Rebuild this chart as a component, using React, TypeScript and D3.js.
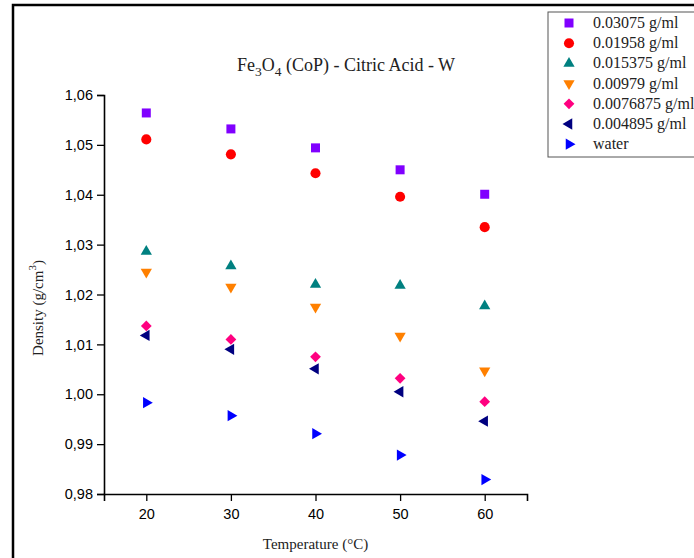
import React, { useEffect, useRef } from "react";
import * as d3 from "d3";

// temperatures (°C)
const temps = [20, 30, 40, 50, 60];

const seriesNames = [
  "0.03075 g/ml",
  "0.01958 g/ml",
  "0.015375 g/ml",
  "0.00979 g/ml",
  "0.0076875 g/ml",
  "0.004895 g/ml",
  "water",
];

const d03075 = [1.0564, 1.0532, 1.0494, 1.045, 1.0401];
const d01958 = [1.0511, 1.0481, 1.0443, 1.0396, 1.0335];
const d015375 = [1.0286, 1.0257, 1.022, 1.0218, 1.0177];
const d00979 = [1.0245, 1.0215, 1.0175, 1.0117, 1.0047];
const d0076875 = [1.0137, 1.011, 1.0075, 1.0032, 0.9985];
const d004895 = [1.0118, 1.009, 1.0051, 1.0005, 0.9946];
const dWater = [0.9983, 0.9957, 0.9921, 0.9878, 0.9829];

const seriesValues = [d03075, d01958, d015375, d00979, d0076875, d004895, dWater];
const colors = ["#8000FF", "#FF0000", "#008080", "#FF8000", "#FF0080", "#000080", "#0000FF"];

const xTicks = [20, 30, 40, 50, 60];
const yTicks = [0.98, 0.99, 1.0, 1.01, 1.02, 1.03, 1.04, 1.05, 1.06];

const W = 694, H = 558;
const margin = { left: 104, top: 95, right: 167, bottom: 64 };

// shape + rotation per series
const shapes: [d3.SymbolType, number, number][] = [
  [d3.symbolSquare, 81, 0],
  [d3.symbolCircle, 80, 0],
  [d3.symbolTriangle, 55, 0],
  [d3.symbolTriangle, 55, 180],
  [d3.symbolSquare, 58, 45],
  [d3.symbolTriangle, 55, -90],
  [d3.symbolTriangle, 55, 90],
];

const serif = "'Liberation Serif', 'Times New Roman', serif";
const sans = "'Liberation Sans', Arial, sans-serif";

export default function App() {
  const ref = useRef<SVGSVGElement>(null);

  useEffect(() => {
    const svg = d3.select(ref.current);
    svg.selectAll("*").remove();

    const x = d3.scaleLinear().domain([15, 65]).range([margin.left, W - margin.right]);
    const y = d3.scaleLinear().domain([0.98, 1.06]).range([H - margin.bottom, margin.top]);

    // outer frame (left and top border)
    svg.append("path")
      .attr("d", `M13,${H} L13,5 L${W},5`)
      .attr("fill", "none").attr("stroke", "#000").attr("stroke-width", 2.5);

    const comma = (v: number) => d3.format(".2f")(v).replace(".", ",");

    // x axis
    const gx = svg.append("g").attr("transform", `translate(0,${H - margin.bottom})`);
    gx.call(d3.axisBottom(x).tickValues(d3.range(15, 66, 5)).tickSize(4).tickFormat(() => ""));
    gx.call(d3.axisBottom(x).tickValues(xTicks).tickSize(7).tickPadding(8).tickFormat(d3.format("d")) as any);
    gx.selectAll("path.domain").attr("stroke-width", 1.6);
    gx.selectAll("line").attr("stroke-width", 1.3);
    gx.selectAll("text").style("font-family", sans).style("font-size", "14.5px").attr("fill", "#000");

    // y axis
    const gy = svg.append("g").attr("transform", `translate(${margin.left},0)`);
    gy.call(d3.axisLeft(y).tickValues(d3.range(0, 17).map(i => 0.98 + i * 0.005)).tickSize(4).tickFormat(() => ""));
    gy.call(d3.axisLeft(y).tickValues(yTicks).tickSize(7).tickPadding(4).tickFormat(d => comma(d as number)) as any);
    gy.selectAll("path.domain").attr("stroke-width", 1.6);
    gy.selectAll("line").attr("stroke-width", 1.3);
    gy.selectAll("text").style("font-family", sans).style("font-size", "14.5px").attr("fill", "#000");

    // markers
    seriesValues.forEach((vals, si) => {
      const [type, size, rot] = shapes[si];
      svg.append("g").selectAll("path")
        .data(vals)
        .enter()
        .append("path")
        .attr("d", d3.symbol().type(type).size(size)() as string)
        .attr("transform", (d, i) => `translate(${x(temps[i])},${y(d)}) rotate(${rot})`)
        .attr("fill", colors[si]);
    });

    // title
    const title = svg.append("text")
      .attr("x", 346).attr("y", 71)
      .attr("text-anchor", "middle")
      .style("font-family", serif)
      .style("font-size", "18px")
      .attr("fill", "#222");
    title.append("tspan").text("Fe");
    title.append("tspan").attr("dy", 5).style("font-size", "13.5px").text("3");
    title.append("tspan").attr("dy", -5).text("O");
    title.append("tspan").attr("dy", 5).style("font-size", "13.5px").text("4");
    title.append("tspan").attr("dy", -5).text(" (CoP) - Citric Acid - W");

    // axis labels
    svg.append("text")
      .attr("x", x(40)).attr("y", 549)
      .attr("text-anchor", "middle")
      .style("font-family", serif)
      .style("font-size", "15px")
      .attr("fill", "#222")
      .text("Temperature (°C)");

    const yl = svg.append("text")
      .attr("transform", `translate(43,${308}) rotate(-90)`)
      .attr("text-anchor", "middle")
      .style("font-family", serif)
      .style("font-size", "15px")
      .attr("fill", "#222");
    yl.append("tspan").text("Density (g/cm");
    yl.append("tspan").attr("dy", -7).style("font-size", "11px").text("3");
    yl.append("tspan").attr("dy", 7).text(")");

    // legend
    const lg = svg.append("g");
    lg.append("rect")
      .attr("x", 548).attr("y", 12).attr("width", 160).attr("height", 145)
      .attr("fill", "#fff").attr("stroke", "#555").attr("stroke-width", 1);
    seriesNames.forEach((name, si) => {
      const [type, size, rot] = shapes[si];
      const cy = 23 + si * 20.2;
      lg.append("path")
        .attr("d", d3.symbol().type(type).size(size)() as string)
        .attr("transform", `translate(569,${cy}) rotate(${rot})`)
        .attr("fill", colors[si]);
      lg.append("text")
        .attr("x", 593).attr("y", cy + 5)
        .style("font-family", serif)
        .style("font-size", "16px")
        .attr("fill", "#222")
        .text(name);
    });
  }, []);

  return (
    <div style={{ position: "fixed", left: 0, top: 0, width: W, height: H, background: "#fff" }}>
      <svg ref={ref} width={W} height={H}></svg>
    </div>
  );
}
